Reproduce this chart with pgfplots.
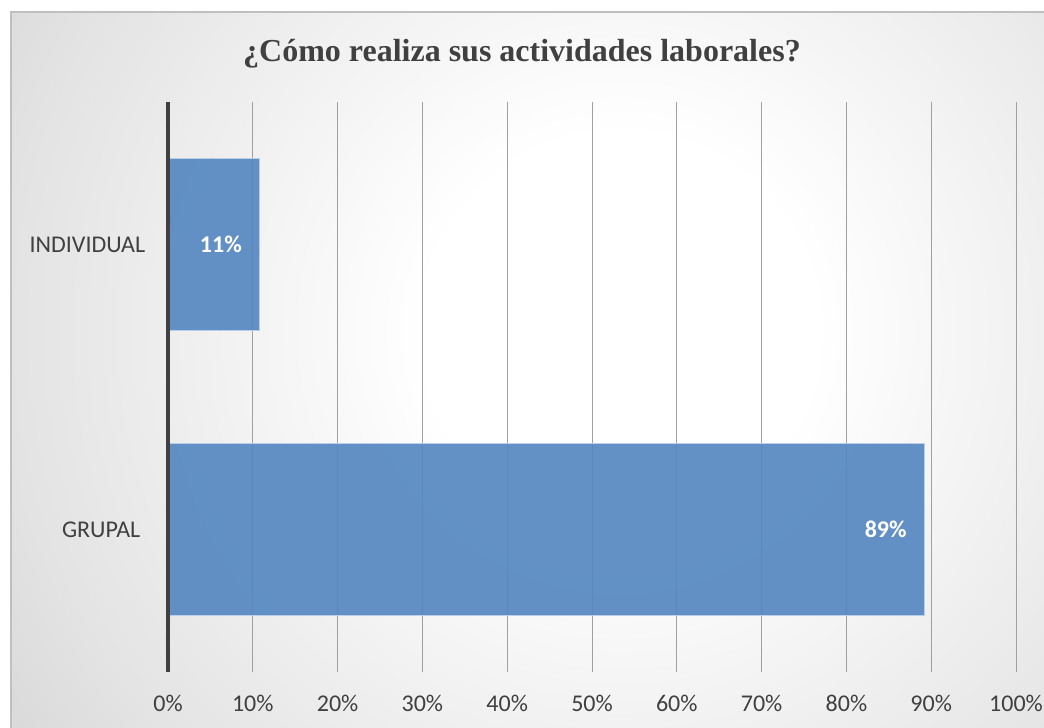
\documentclass[border=0pt]{standalone}
\usepackage{fontspec}
\setmainfont{Carlito}
\newfontfamily\titlefont{Liberation Serif}
\usepackage{pgfplots}
\pgfplotsset{compat=1.18}
\definecolor{barblue}{RGB}{86,136,193}
\definecolor{baredge}{RGB}{185,207,233}
\definecolor{txt}{RGB}{64,64,64}
\definecolor{gridc}{RGB}{160,160,160}
\definecolor{axisc}{RGB}{64,64,64}
\definecolor{framec}{RGB}{191,191,191}
\pgfdeclareradialshading{bgshade}{\pgfpoint{0bp}{0bp}}{color(0bp)=(white); color(7bp)=(white); color(22bp)=(black!11); color(36bp)=(black!24); color(50bp)=(black!34)}
\begin{document}
\begin{tikzpicture}[x=1pt,y=1pt]
\useasboundingbox (0,0) rectangle (1044,728);
\fill[white] (0,0) rectangle (1044,728);
\begin{scope}
\clip (11,0) rectangle (1044,716);
\shade[shading=bgshade] (-80,-302) rectangle (1320,1098);
\end{scope}
\draw[color=framec, line width=1.2pt] (11,0) -- (11,716) -- (1044,716);
\node[font=\titlefont\bfseries\fontsize{32}{38}\selectfont, text=txt] at (522,674) {¿Cómo realiza sus actividades laborales?};
\begin{axis}[
  at={(168pt,56pt)}, anchor=south west,
  scale only axis, width=848pt, height=570pt,
  clip=false,
  xbar, bar width=172pt,
  xmin=0, xmax=100, ymin=-0.5, ymax=1.5,
  xtick={0,10,...,100},
  xticklabel={\pgfmathprintnumber{\tick}\%},
  ytick={0,1}, yticklabels={GRUPAL\kern5pt,INDIVIDUAL},
  axis line style={draw=none},
  tick style={draw=none},
  xmajorgrids,
  grid style={color=gridc, line width=1pt},
  ticklabel style={font=\fontsize{24}{28}\selectfont, text=txt},
  xticklabel style={yshift=-20pt},
  yticklabel style={xshift=-15pt},
  /pgf/number format/assume math mode=true,
  nodes near coords,
  point meta=explicit symbolic,
  every node near coord/.append style={anchor=east, xshift=-14pt, font=\bfseries\fontsize{24}{28}\selectfont, text=white, text opacity=1},
]
\addplot[fill=barblue, fill opacity=0.92, draw=baredge, line width=1pt] coordinates {(89.2,0) [89\%] (10.8,1) [11\%]};
\draw[line width=4pt, color=axisc] (axis cs:0,-0.5) -- (axis cs:0,1.5);
\end{axis}
\end{tikzpicture}
\end{document}
